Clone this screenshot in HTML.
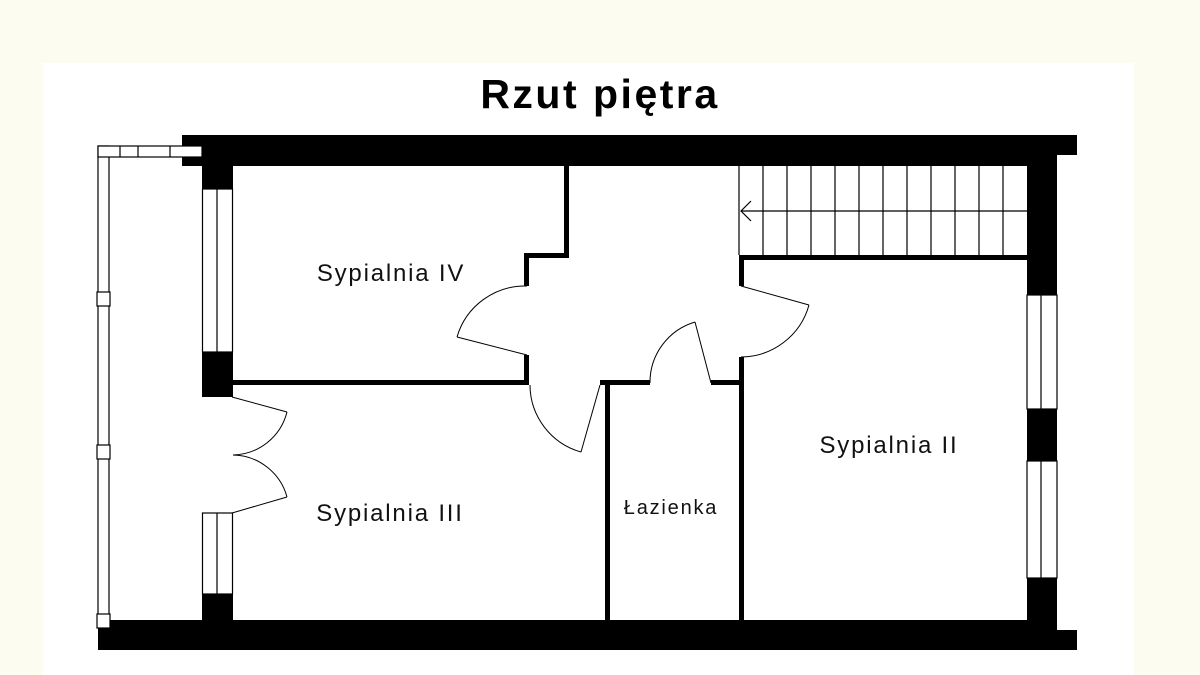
<!DOCTYPE html>
<html><head><meta charset="utf-8"><style>
html,body{margin:0;padding:0;background:#fcfdf0;width:1200px;height:675px;overflow:hidden}
svg{display:block}
</style></head><body>
<svg width="1200" height="675" viewBox="0 0 1200 675" xmlns="http://www.w3.org/2000/svg">
<rect x="0" y="0" width="1200" height="675" fill="#fcfdf0"/>
<rect x="43" y="63" width="1091" height="612" fill="#ffffff"/>
<text x="600" y="108" text-anchor="middle" font-family="Liberation Sans, sans-serif" font-weight="bold" font-size="41" letter-spacing="2.5" fill="#000">Rzut piętra</text>
<g fill="#000">
<rect x="182" y="135" width="895" height="31"/>
<rect x="202" y="135" width="31" height="54"/>
<rect x="202" y="352" width="31" height="45"/>
<rect x="202" y="594" width="31" height="30"/>
<rect x="98" y="620" width="979" height="30"/>
<rect x="1027" y="135" width="30" height="160"/>
<rect x="1027" y="409" width="30" height="52"/>
<rect x="1027" y="578" width="30" height="50"/>
<rect x="1057" y="155" width="20" height="475" fill="#fff"/>
<rect x="1057" y="630" width="20" height="20"/>
<rect x="232" y="380" width="297" height="5"/>
<rect x="564" y="166" width="5" height="92"/>
<rect x="524" y="253" width="45" height="5"/>
<rect x="524" y="253" width="5" height="33"/>
<rect x="524" y="355" width="5" height="30"/>
<rect x="600" y="380" width="50" height="5"/>
<rect x="711" y="380" width="30" height="5"/>
<rect x="605" y="380" width="5" height="240"/>
<rect x="739" y="255" width="5" height="31"/>
<rect x="739" y="357" width="5" height="263"/>
<rect x="739" y="255" width="288" height="5"/>
</g>
<g fill="#fff" stroke="#000" stroke-width="1.2">
<rect x="202.5" y="189" width="30" height="163"/>
<line x1="217" y1="189" x2="217" y2="352"/>
<rect x="202.5" y="513" width="30" height="81"/>
<line x1="217" y1="513" x2="217" y2="594"/>
<rect x="1027" y="295" width="30" height="114"/>
<line x1="1041" y1="295" x2="1041" y2="409"/>
<rect x="1027" y="461" width="30" height="117"/>
<line x1="1041" y1="461" x2="1041" y2="578"/>
<rect x="98" y="146" width="11" height="474"/>
<rect x="98" y="146" width="104" height="11"/>
<rect x="97" y="292" width="13" height="14"/>
<rect x="97" y="445" width="13" height="14"/>
<rect x="97" y="614" width="13" height="14"/>
<line x1="138" y1="146" x2="138" y2="157"/>
<line x1="170" y1="146" x2="170" y2="157"/>
<line x1="120" y1="146" x2="120" y2="157"/>
</g>
<g stroke="#000" stroke-width="1.2" fill="none">
<line x1="739" y1="166" x2="739" y2="255"/>
<line x1="741" y1="211" x2="1027" y2="211"/>
<polyline points="751,201 741,211 751,221"/>
<line x1="763" y1="166" x2="763" y2="255"/>
<line x1="787" y1="166" x2="787" y2="255"/>
<line x1="811" y1="166" x2="811" y2="255"/>
<line x1="835" y1="166" x2="835" y2="255"/>
<line x1="859" y1="166" x2="859" y2="255"/>
<line x1="883" y1="166" x2="883" y2="255"/>
<line x1="907" y1="166" x2="907" y2="255"/>
<line x1="931" y1="166" x2="931" y2="255"/>
<line x1="955" y1="166" x2="955" y2="255"/>
<line x1="979" y1="166" x2="979" y2="255"/>
<line x1="1003" y1="166" x2="1003" y2="255"/>
</g>
<g stroke="#000" stroke-width="1" fill="none">
<line x1="527" y1="355" x2="457" y2="337"/>
<path d="M457,337 A71,71 0 0 1 527,286"/>
<line x1="600" y1="385" x2="581" y2="452"/>
<path d="M581,452 A70,70 0 0 1 530,385"/>
<line x1="711" y1="383" x2="695" y2="322"/>
<path d="M695,322 A63,63 0 0 0 650,383"/>
<line x1="741" y1="286" x2="809" y2="305"/>
<path d="M809,305 A71,71 0 0 1 741,357"/>
<line x1="232" y1="397" x2="287" y2="412"/>
<path d="M287,412 A57,57 0 0 1 233,455"/>
<line x1="232" y1="513" x2="287" y2="497"/>
<path d="M287,497 A57,57 0 0 0 233,455"/>
</g>
<g font-family="Liberation Sans, sans-serif" font-size="24" letter-spacing="1.8" fill="#111" text-anchor="middle">
<text x="391" y="281">Sypialnia IV</text>
<text x="390" y="521">Sypialnia III</text>
<text x="889" y="453">Sypialnia II</text>
<text x="671" y="514" font-size="20" letter-spacing="1.8">Łazienka</text>
</g>
</svg>
</body></html>
